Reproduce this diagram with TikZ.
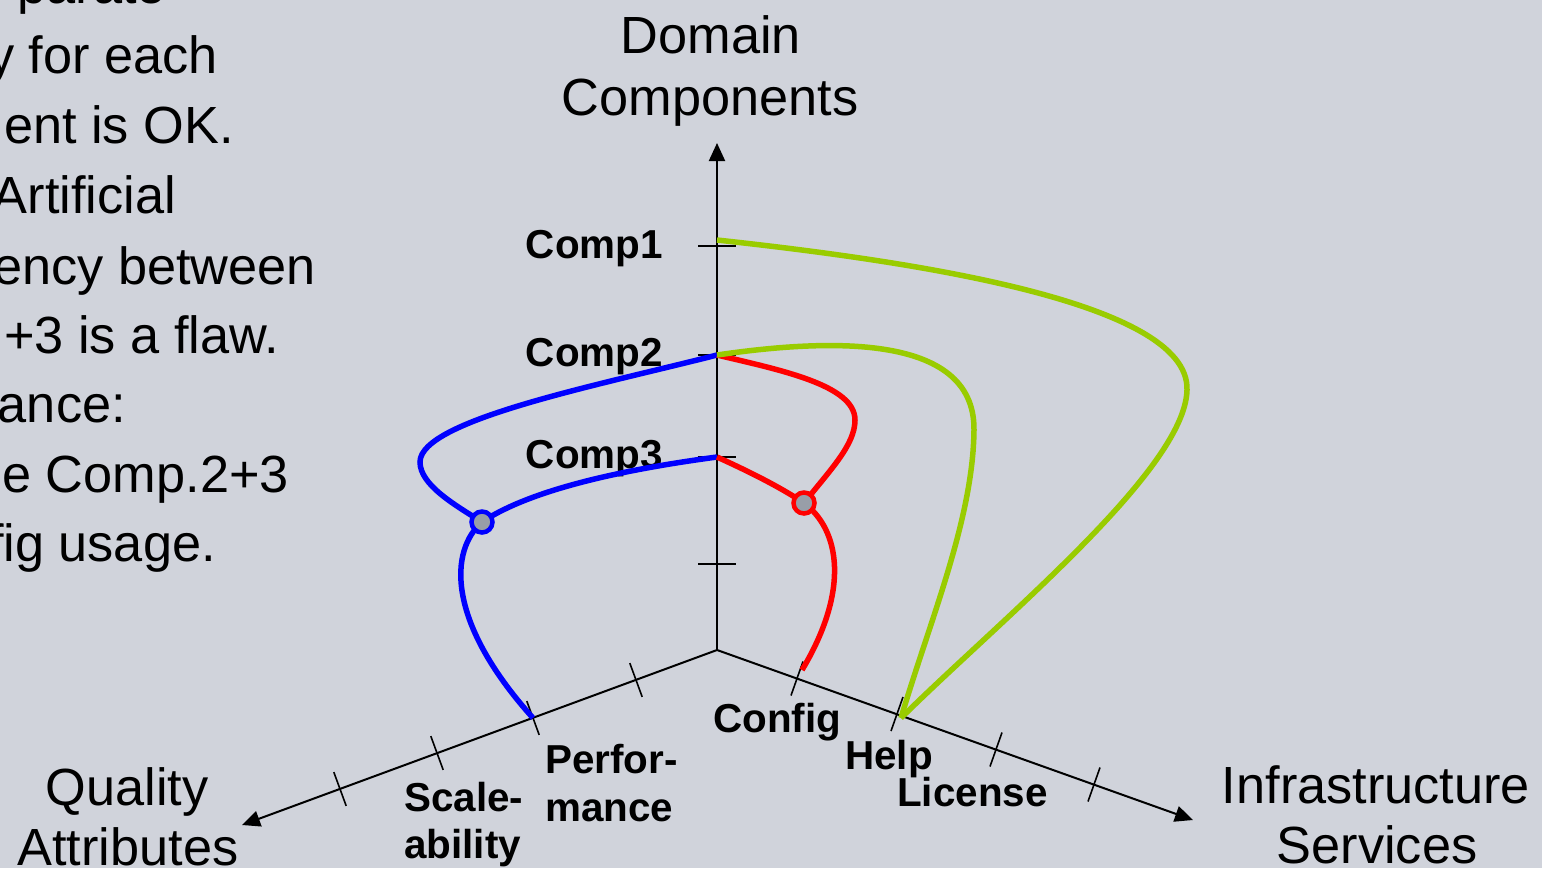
\documentclass[tikz,border=0pt]{standalone}
\usepackage{fontspec}
\setmainfont{Liberation Sans}
\usetikzlibrary{arrows.meta}
\definecolor{bg}{RGB}{208,211,219}
\definecolor{lime}{RGB}{153,204,0}
\definecolor{dotfill}{RGB}{152,158,168}
\tikzset{
  axis/.style={line width=2pt, -{Triangle[length=18pt,width=16pt]}},
  tick/.style={line width=1.6pt},
  link/.style={line width=5.5pt},
  axlabel/.style={inner sep=0pt, font=\fontsize{52.3}{61}\selectfont},
  note/.style={inner sep=0pt, anchor=base east, font=\fontsize{52.3}{61}\selectfont},
  itemlabel/.style={inner sep=0pt, font=\fontsize{40.4}{47}\bfseries\selectfont},
  junction/.style={circle, draw=#1, line width=4.5pt, fill=dotfill, minimum size=21pt, inner sep=0pt}
}
\begin{document}
\begin{tikzpicture}[x=1pt,y=-1pt]
\useasboundingbox (0,0) rectangle (1542,868);
\fill[bg] (0,0) rectangle (1542,868);

% explanatory text, running off the left edge
\node[note] (t0) at (166,3) {parate};
\node[note] (t1) at (218,73) {y for each};
\node[note] (t2) at (234,143) {ent is OK.};
\node[note] (t3) at (176,213) {Artificial};
\node[note] (t4) at (316,284) {ency between};
\node[note] (t5) at (279,353) {+3 is a flaw.};
\node[note] (t6) at (126,422) {ance:};
\node[note] (t7) at (289,492) {e Comp.2+3};
\node[note] (t8) at (216,561) {fig usage.};

% three axes from a common origin
\coordinate (o) at (717,650);
\coordinate (up) at (717,143);
\coordinate (left) at (242,825);
\coordinate (right) at (1193,820);
\draw[axis] (o) -- (up);
\draw[axis] (o) -- (left);
\draw[axis] (o) -- (right);

% ticks on the vertical axis
\foreach \y in {246,355,457,564}
  \draw[tick] (698,\y) -- (736,\y);
% ticks on the left axis
\foreach \x/\y in {636/680,533/718,437/753,340/789}
  \draw[tick] (\x-6.2,\y-16.9) -- (\x+6.2,\y+16.9);
% ticks on the right axis
\foreach \x/\y in {797/678.5,897/714,996/749.5,1094/784.5}
  \draw[tick] (\x+6,\y-17) -- (\x-6,\y+17);

% axis titles
\node[axlabel, anchor=base] (dom1) at (711,53) {Domain};
\node[axlabel, anchor=base] (dom2) at (710,115) {Components};
\node[axlabel, anchor=base] (qa1) at (127,805) {Quality};
\node[axlabel, anchor=base] (qa2) at (128,865) {Attributes};
\node[axlabel, anchor=base] (is1) at (1376,803) {Infrastructure};
\node[axlabel, anchor=base] (is2) at (1377,863) {Services};

% item labels
\node[itemlabel, anchor=base east] (l1) at (663,258) {Comp1};
\node[itemlabel, anchor=base east] (l2) at (663,366) {Comp2};
\node[itemlabel, anchor=base east] (l3) at (663,468) {Comp3};
\node[itemlabel, anchor=base west] (lsc1) at (404,811) {Scale-};
\node[itemlabel, anchor=base west] (lsc2) at (404,858) {ability};
\node[itemlabel, anchor=base west] (lpf1) at (545,773) {Perfor-};
\node[itemlabel, anchor=base west] (lpf2) at (545,821) {mance};
\node[itemlabel, anchor=base west] (lcf) at (713,732) {Config};
\node[itemlabel, anchor=base west] (lhp) at (845,769) {Help};
\node[itemlabel, anchor=base west] (llc) at (897,806) {License};

% attachment points
\coordinate (c1) at (717,240);
\coordinate (c2) at (717,355);
\coordinate (c3) at (717,457);
\coordinate (jb) at (482,522);
\coordinate (jr) at (804,503);
\coordinate (perf) at (533,718);
\coordinate (conf) at (802,670);
\coordinate (help) at (901,718);

% Performance couples Comp2 and Comp3
\draw[link, blue] (c2) .. controls (600,385) and (420,420) .. (420,462)
  .. controls (420,485) and (455,505) .. (jb)
  .. controls (450,550) and (445,620) .. (perf);
\draw[link, blue] (c3) .. controls (620,470) and (530,490) .. (jb);

% Config couples Comp2 and Comp3
\draw[link, red] (c2) .. controls (780,370) and (855,385) .. (855,420)
  .. controls (855,445) and (830,470) .. (jr)
  .. controls (840,530) and (850,590) .. (conf);
\draw[link, red] (c3) .. controls (750,472) and (780,487) .. (jr);

% Help used by Comp1 and Comp2 separately
\draw[link, lime] (c1) .. controls (900,260) and (1190,300) .. (1187,390)
  .. controls (1185,470) and (1000,620) .. (help);
\draw[link, lime] (c2) .. controls (820,340) and (975,330) .. (974,430)
  .. controls (973,520) and (930,620) .. (help);

% junction markers
\node[junction=blue] (mb) at (jb) {};
\node[junction=red] (mr) at (jr) {};
\end{tikzpicture}
\end{document}
